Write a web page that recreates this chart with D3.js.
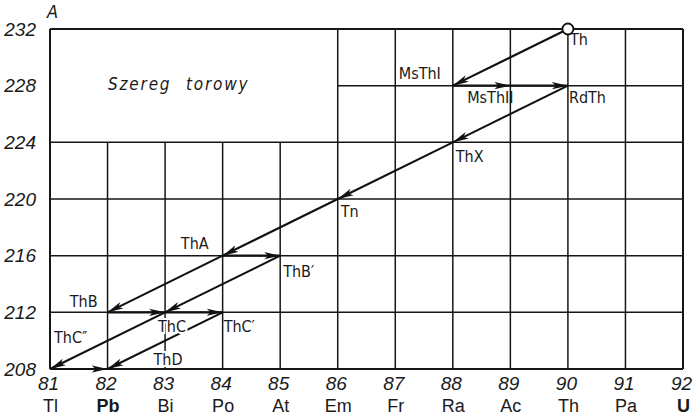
<!DOCTYPE html>
<html lang="pl">
<head>
  <meta charset="UTF-8" />
  <title>Szereg torowy</title>
  <script src="https://cdn.jsdelivr.net/npm/d3@7"></script>
  <style>
    body { margin: 0; background: #fff; }
    svg { display: block; font-family: "DejaVu Sans Condensed", "DejaVu Sans", sans-serif; }
    .num text { font-style: italic; font-size: 19px; fill: #1a1a1a; }
    .sym text { font-size: 18px; fill: #1a1a1a; }
    .grid line { stroke: #161616; stroke-width: 1.5; }
    .decay { stroke: #111; stroke-width: 2.1; fill: none; }
    .nlabel { font-size: 16px; fill: #1a1a1a; }
  </style>
</head>
<body>
<div id="chart"></div>
<script>
// atomic number ticks and element symbols
const zTicks = [81, 82, 83, 84, 85, 86, 87, 88, 89, 90, 91, 92];
const elements = ["Tl", "Pb", "Bi", "Po", "At", "Em", "Fr", "Ra", "Ac", "Th", "Pa", "U"];
// mass number ticks
const massTicks = [208, 212, 216, 220, 224, 228, 232];

// nuclides of the thorium series
const nuclideNames = ["Th", "MsThI", "MsThII", "RdTh", "ThX", "Tn", "ThA", "ThB'", "ThB", "ThC", "ThC'", "ThC''", "ThD"];
const nuclideZ     = [90, 88, 89, 90, 88, 86, 84, 85, 82, 83, 84, 81, 82];
const nuclideA     = [232, 228, 228, 228, 224, 220, 216, 216, 212, 212, 212, 208, 208];

// decays: from -> to
const decayFrom = ["Th", "MsThI", "MsThII", "RdTh", "ThX", "Tn", "ThA", "ThA", "ThB", "ThB'", "ThC", "ThC", "ThC'", "ThC''"];
const decayTo   = ["MsThI", "MsThII", "RdTh", "ThX", "Tn", "ThA", "ThB", "ThB'", "ThC", "ThC", "ThC'", "ThC''", "ThD", "ThD"];

const W = 696, H = 419;
const x = d3.scaleLinear().domain([81, 92]).range([50, 683]);
const y = d3.scaleLinear().domain([208, 232]).range([369, 29]);

const svg = d3.select("#chart").append("svg")
  .attr("width", W).attr("height", H);

svg.append("defs").append("marker")
  .attr("id", "head")
  .attr("markerUnits", "userSpaceOnUse")
  .attr("viewBox", "0 -4 16 8")
  .attr("refX", 16).attr("refY", 0)
  .attr("markerWidth", 16).attr("markerHeight", 8)
  .attr("orient", "auto")
  .append("path")
  .attr("d", "M0,-3.6 L16,0 L0,3.6 L4,0 Z")
  .attr("fill", "#111");

// grid
const grid = svg.append("g").attr("class", "grid");
zTicks.forEach(z => {
  const top = (z > 81 && z < 86) ? 224 : 232;
  grid.append("line")
    .attr("x1", x(z)).attr("x2", x(z))
    .attr("y1", y(top)).attr("y2", y(208))
    .style("stroke-width", (z === 81 || z === 92) ? 2 : 1.5);
});
massTicks.forEach(a => {
  const left = a === 228 ? 86 : 81;
  grid.append("line")
    .attr("x1", x(left)).attr("x2", x(92))
    .attr("y1", y(a)).attr("y2", y(a))
    .style("stroke-width", (a === 208 || a === 232) ? 2 : 1.5);
});

// axes (labels only)
const yAx = svg.append("g").attr("class", "num")
  .attr("transform", `translate(${x(81)},0)`)
  .call(d3.axisLeft(y).tickValues(massTicks).tickSize(0).tickPadding(14).tickFormat(d3.format("d")));
const xAx = svg.append("g").attr("class", "num")
  .attr("transform", `translate(-2,${y(208)})`)
  .call(d3.axisBottom(x).tickValues(zTicks).tickSize(0).tickPadding(8).tickFormat(d3.format("d")));
const sAx = svg.append("g").attr("class", "sym")
  .attr("transform", `translate(0,${y(208)})`)
  .call(d3.axisBottom(x).tickValues(zTicks).tickSize(0).tickPadding(30)
    .tickFormat((d, i) => elements[i]));
[yAx, xAx, sAx].forEach(g => g.select(".domain").remove());
sAx.selectAll("text").filter(d => d === 82 || d === 92).style("font-weight", "bold");

svg.append("text")
  .attr("x", x(81) - 3).attr("y", 18)
  .style("font-style", "italic").style("font-size", "18px").attr("fill", "#1a1a1a")
  .text("A");

svg.append("text")
  .attr("x", 108).attr("y", 90)
  .style("font-style", "italic").style("font-size", "17px")
  .style("letter-spacing", "1.8px").style("word-spacing", "8px")
  .attr("fill", "#1a1a1a")
  .text("Szereg torowy");

// nuclides
const nuclides = nuclideNames.map((n, i) => ({ name: n, z: nuclideZ[i], a: nuclideA[i] }));
const byName = Object.fromEntries(nuclides.map(d => [d.name, d]));
const decays = decayFrom.map((f, i) => ({ from: byName[f], to: byName[decayTo[i]] }));

svg.append("g").selectAll("line")
  .data(decays)
  .join("line")
  .attr("class", "decay")
  .attr("x1", d => x(d.from.z)).attr("y1", d => y(d.from.a))
  .attr("x2", d => x(d.to.z)).attr("y2", d => y(d.to.a))
  .attr("marker-end", "url(#head)");

svg.append("circle")
  .attr("cx", x(byName["Th"].z)).attr("cy", y(byName["Th"].a))
  .attr("r", 5.5).attr("fill", "#fff")
  .attr("stroke", "#111").attr("stroke-width", 1.8);

// label placement: [dx, dy, anchor]
const labelPlace = {
  "Th": [2, 16, "start"], "MsThI": [-12, -7, "end"], "MsThII": [-20, 17, "middle"],
  "RdTh": [1, 17, "start"], "ThX": [3, 20, "start"], "Tn": [3, 18, "start"],
  "ThA": [-14, -7, "end"], "ThB'": [3, 21, "start"], "ThB": [-10, -5, "end"],
  "ThC": [-7, 20, "start"], "ThC'": [1, 20, "start"], "ThC''": [4, -26, "start"],
  "ThD": [46, -4, "start"]
};
const pretty = n => n.replace("''", "\u2033").replace("'", "\u2032");

svg.append("g").selectAll("text")
  .data(nuclides)
  .join("text")
  .attr("class", "nlabel")
  .attr("x", d => x(d.z) + labelPlace[d.name][0])
  .attr("y", d => y(d.a) + labelPlace[d.name][1])
  .attr("text-anchor", d => labelPlace[d.name][2])
  .attr("stroke", d => (d.name === "ThC" || d.name === "ThD") ? "#fff" : "none")
  .attr("stroke-width", 4)
  .attr("paint-order", "stroke")
  .text(d => pretty(d.name));
</script>
</body>
</html>
